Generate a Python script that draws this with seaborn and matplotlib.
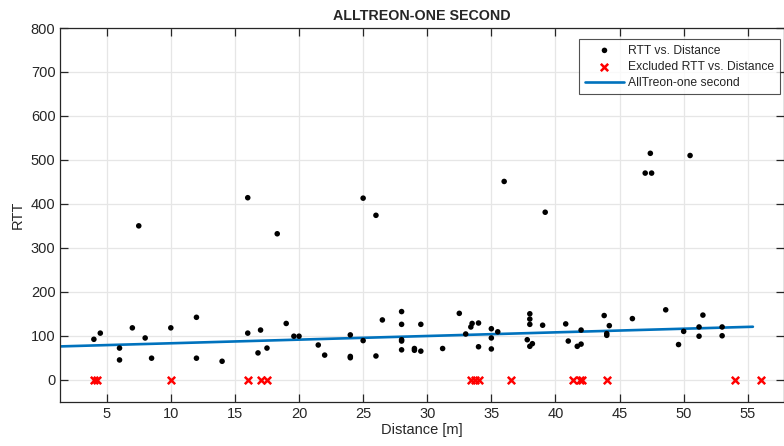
import numpy as np
import pandas as pd
import matplotlib
matplotlib.use("Agg")
import matplotlib.pyplot as plt
import seaborn as sns

# === DATA ===
dist = [4, 4.5, 6, 6, 7, 7.5, 8, 8.5, 10, 12, 12, 14, 16, 16, 16.8, 17, 17.5, 18.3,
        19, 19.6, 20, 21.5, 22, 24, 24, 24, 25, 25, 26, 26, 26.5, 28, 28, 28, 28, 28,
        29, 29, 29.5, 29.5, 31.2, 32.5, 33, 33.4, 33.5, 34, 34, 35, 35, 35, 35.5, 36,
        37.8, 38, 38, 38, 38, 38.2, 39, 39.2, 40.8, 41, 41.7, 42, 42, 43.8, 44, 44,
        44.2, 46, 47, 47.4, 47.5, 48.6, 49.6, 50, 50.5, 51.2, 51.2, 51.5, 53, 53]
rtt = [92, 106, 72, 45, 118, 350, 95, 49, 118, 142, 49, 42, 106, 414, 61, 113, 72, 332,
       128, 99, 99, 79, 56, 102, 53, 50, 89, 413, 54, 374, 136, 155, 126, 91, 88, 68,
       71, 67, 126, 65, 71, 151, 104, 120, 128, 129, 75, 116, 95, 70, 109, 451,
       91, 150, 138, 126, 76, 82, 124, 381, 127, 88, 76, 113, 81, 146, 105, 101,
       123, 139, 470, 515, 470, 159, 80, 110, 510, 120, 99, 147, 120, 100]

excl_dist = [4, 4.25, 10, 16, 17, 17.5, 33.4, 33.7, 34, 36.5, 41.4, 41.9, 42.1, 44, 54, 56]
excl_rtt = [0] * len(excl_dist)

fit_x = [1.4, 55.4]
fit_y = [75.8, 120.5]

df_in = pd.DataFrame({"Distance": dist, "RTT": rtt})
df_ex = pd.DataFrame({"Distance": excl_dist, "RTT": excl_rtt})
df_fit = pd.DataFrame({"Distance": fit_x, "RTT": fit_y})

sns.set_style("white")
plt.rcParams['font.family'] = ['Liberation Sans', 'DejaVu Sans']

fig = plt.figure(figsize=(7.84, 4.46), dpi=100)
ax = fig.add_axes([0.0769, 0.0993, 0.9235, 0.8379])

sns.scatterplot(data=df_in, x="Distance", y="RTT", ax=ax, color="black", s=16,
                marker="o", edgecolor="none", label="RTT vs. Distance", zorder=3)
sns.scatterplot(data=df_ex, x="Distance", y="RTT", ax=ax, color="red", s=28,
                marker="x", linewidth=1.8, label="Excluded RTT vs. Distance", zorder=3)
sns.lineplot(data=df_fit, x="Distance", y="RTT", ax=ax, color="#0072BD", lw=1.9,
             label="AllTreon-one second", zorder=2)

ax.set_xlim(1.38, 57.85)
ax.set_ylim(-50, 800)
ax.set_xticks(np.arange(5, 60, 5))
ax.set_yticks(np.arange(0, 900, 100))
ax.grid(True, color="#e6e6e6", lw=0.9)
ax.set_axisbelow(True)
for s in ax.spines.values():
    s.set_color("#262626")
    s.set_linewidth(0.9)
ax.tick_params(axis="both", direction="in", length=6, width=0.9, color="#262626",
               labelsize=10.5, labelcolor="#262626", top=True, right=True,
               bottom=True, left=True)
ax.set_xlabel("Distance [m]", fontsize=10.5, color="#262626", labelpad=2)
ax.set_ylabel("RTT", fontsize=10.5, color="#262626", labelpad=4)
ax.set_title("ALLTREON-ONE SECOND", fontsize=10.3, fontweight="bold", pad=6)

leg = ax.legend(loc="upper right", bbox_to_anchor=(0.9985, 0.98), fontsize=8.7,
                frameon=True, fancybox=False, edgecolor="#262626", borderpad=0.45,
                labelspacing=0.35, handlelength=3.3, handletextpad=0.3,
                borderaxespad=0.3)
leg.get_frame().set_linewidth(0.8)

fig.savefig("out.png", dpi=100)
